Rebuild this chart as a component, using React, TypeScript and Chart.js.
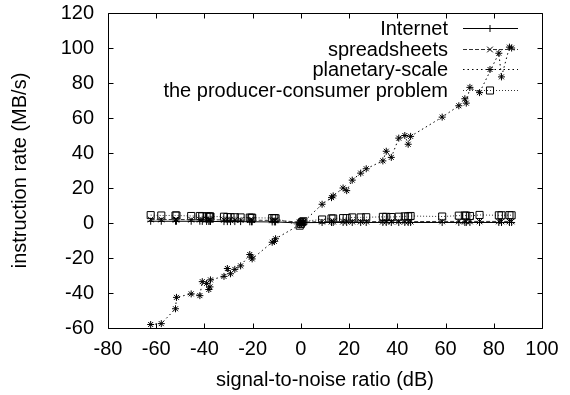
import React, { useEffect, useRef } from "react";
import { Chart, registerables } from "chart.js";
import { drawPoint } from "chart.js/helpers";

Chart.register(...registerables);

const FONT = "'Liberation Sans', Arial, Helvetica, sans-serif";

const seriesNames = ["Internet", "spreadsheets", "planetary-scale", "the producer-consumer problem"];

const snrValues = [
  -62.3, -57.9, -52, -51.6, -45.5, -41.9, -40.9, -39.1, -38.2, -37.7, -37.5, -31.9, -30.5, -29.2, -27.4, -25,
  -21.2, -20.5, -20.2, -11.9, -11, -10.5, -0.5, 0, 0.5, 1, 8.8, 12.7, 13.4, 17.5, 19, 21.3, 24.8, 27.1, 34,
  35.4, 37.5, 40.6, 43.1, 44.5, 45.5, 58.6, 65.5, 68, 68.6, 70.1, 74.1, 82.1, 83.2, 86.5, 87.4,
];

const internetRate = [
  1, 1, 1, 1, 1, 1, 0.9, 0.9, 0.9, 0.9, 0.9, 0.8, 0.8, 0.8, 0.8, 0.8, 0.7, 0.7, 0.7, 0.6, 0.6, 0.6, 0, 0, 0.2,
  0.2, 0.3, 0.3, 0.3, 0.3, 0.3, 0.3, 0.3, 0.3, 0.3, 0.3, 0.3, 0.3, 0.3, 0.3, 0.3, 0.3, 0.3, 0.3, 0.3, 0.3, 0.3,
  0.3, 0.3, 0.3, 0.3,
];

const spreadsheetsRate = [
  2, 2, 2, 2, 1.9, 1.9, 1.9, 1.9, 1.8, 1.8, 1.8, 1.8, 1.7, 1.7, 1.7, 1.7, 1.6, 1.6, 1.6, 1.5, 1.5, 1.5, 0.5, 0,
  0.3, 0.5, 0.8, 0.8, 0.8, 0.8, 0.8, 0.8, 0.8, 0.8, 0.8, 0.8, 0.8, 0.8, 0.8, 0.8, 0.8, 0.9, 0.9, 0.9, 0.9, 0.9,
  0.9, 0.9, 0.9, 0.9, 0.9,
];

const planetaryRate = [
  -58, -57.5, -49, -42.5, -40.5, -41.5, -33.5, -34.5, -38, -36.5, -32.5, -30.5, -26, -29, -26.5, -24.5, -18,
  -19.5, -20.5, -11, -10.5, -9, -1, 0, 1, 0.5, 10.7, 14.5, 15.5, 20, 18.5, 24.5, 28.5, 31, 35.5, 41, 37.5, 48.5,
  50, 45, 49.5, 60.5, 67, 71, 68.5, 77.5, 74.5, 97, 83.5, 100.5, 100,
];

const producerRate = [
  4.5, 4.3, 4.3, 4.3, 4, 4, 3.8, 3.8, 3.8, 3.7, 3.7, 3.6, 3.4, 3.3, 3.3, 3.2, 3.1, 3, 3, 2.8, 2.8, 2.7, -1.5,
  -0.5, 0.5, 1, 2, 2.6, 2.6, 2.8, 2.8, 3.2, 3.2, 3.3, 3.5, 3.5, 3.4, 3.6, 3.8, 3.8, 4, 3.7, 4.2, 4.3, 4.2, 4,
  4.6, 4.4, 4.4, 4.5, 4.4,
];

const xMin = -80;
const xMax = 100;
const yMin = -60;
const yMax = 120;
const tickStep = 20;

const xTitle = "signal-to-noise ratio (dB)";
const yTitle = "instruction rate (MB/s)";

const toPoints = (ys: number[]) => snrValues.map((x, i) => ({ x, y: ys[i] }));

const framePlugin = {
  id: "gnuplotFrame",
  afterDatasetsDraw(chart: any) {
    const { ctx, chartArea: a, scales } = chart;
    ctx.save();
    ctx.strokeStyle = "#000";
    ctx.lineWidth = 1;
    ctx.setLineDash([]);
    const l = Math.round(a.left) + 0.5;
    const r = Math.round(a.right) + 0.5;
    const t = Math.round(a.top) + 0.5;
    const b = Math.round(a.bottom) + 0.5;
    ctx.beginPath();
    ctx.rect(l, t, r - l, b - t);
    const L = 5;
    scales.x.ticks.forEach((tk: any) => {
      const px = Math.round(scales.x.getPixelForValue(tk.value)) + 0.5;
      ctx.moveTo(px, b);
      ctx.lineTo(px, b - L);
      ctx.moveTo(px, t);
      ctx.lineTo(px, t + L);
    });
    scales.y.ticks.forEach((tk: any) => {
      const py = Math.round(scales.y.getPixelForValue(tk.value)) + 0.5;
      ctx.moveTo(l, py);
      ctx.lineTo(l + L, py);
      ctx.moveTo(r, py);
      ctx.lineTo(r - L, py);
    });
    ctx.stroke();

    // legend (gnuplot style: right-aligned text, sample on the right)
    const rowGap = 20.7;
    chart.data.datasets.forEach((ds: any, i: number) => {
      const y = Math.round(a.top + 15 + i * rowGap) + 0.5;
      ctx.font = `20px ${FONT}`;
      ctx.fillStyle = "#000";
      ctx.textAlign = "right";
      ctx.textBaseline = "middle";
      ctx.fillText(ds.label, a.right - 94, y + 1);
      ctx.strokeStyle = ds.borderColor;
      ctx.lineWidth = ds.borderWidth;
      ctx.setLineDash(ds.borderDash || []);
      ctx.beginPath();
      ctx.moveTo(a.right - 79, y);
      ctx.lineTo(a.right - 24, y);
      ctx.stroke();
      ctx.setLineDash([]);
      ctx.strokeStyle = "#000";
      ctx.fillStyle = "rgba(0,0,0,0)";
      ctx.lineWidth = 1;
      drawPoint(ctx, { pointStyle: ds.pointStyle, radius: ds.pointRadius, rotation: 0, borderWidth: 1 } as any, a.right - 52, y);
    });
    ctx.restore();
  },
};

export default function App() {
  const ref = useRef<HTMLCanvasElement>(null);

  useEffect(() => {
    if (!ref.current) return;
    const common = {
      showLine: true,
      fill: false,
      tension: 0,
      borderWidth: 1,
      pointBorderWidth: 1,
      pointBackgroundColor: "rgba(0,0,0,0)",
      pointBorderColor: "#000",
    };
    const chart = new Chart(ref.current, {
      type: "scatter",
      data: {
        datasets: [
          {
            ...common,
            label: seriesNames[0],
            data: toPoints(internetRate),
            borderColor: "#000",
            borderDash: [],
            pointStyle: "cross",
            pointRadius: 3.5,
          },
          {
            ...common,
            label: seriesNames[1],
            data: toPoints(spreadsheetsRate),
            borderColor: "#333",
            borderDash: [4, 2],
            pointStyle: "crossRot",
            pointRadius: 4,
          },
          {
            ...common,
            label: seriesNames[2],
            data: toPoints(planetaryRate),
            borderColor: "#000",
            borderDash: [1.5, 3],
            pointStyle: "star",
            pointRadius: 3.5,
          },
          {
            ...common,
            label: seriesNames[3],
            data: toPoints(producerRate),
            borderColor: "#333",
            borderDash: [1, 2],
            pointStyle: "rect",
            pointRadius: 5,
          },
        ] as any,
      },
      options: {
        animation: false,
        responsive: false,
        maintainAspectRatio: false,
        layout: { padding: { top: 13, right: 28, left: 0, bottom: 0 } },
        plugins: {
          legend: { display: false },
          tooltip: { enabled: false },
        },
        scales: {
          x: {
            type: "linear",
            min: xMin,
            max: xMax,
            border: { display: false },
            grid: { display: false, drawTicks: false },
            ticks: {
              stepSize: tickStep,
              padding: 9,
              color: "#000",
              font: { family: FONT, size: 20 },
              maxRotation: 0,
              autoSkip: false,
            },
            title: {
              display: true,
              text: xTitle,
              color: "#000",
              font: { family: FONT, size: 20 },
              padding: { top: 0, bottom: 3 },
            },
            afterFit: (s: any) => {
              s.height = 67;
              s.paddingLeft = 0;
              s.paddingRight = 0;
            },
          },
          y: {
            type: "linear",
            min: yMin,
            max: yMax,
            border: { display: false },
            grid: { display: false, drawTicks: false },
            ticks: {
              stepSize: tickStep,
              padding: 14,
              color: "#000",
              font: { family: FONT, size: 20 },
              autoSkip: false,
            },
            title: {
              display: true,
              text: yTitle,
              color: "#000",
              font: { family: FONT, size: 20 },
              padding: { top: 8, bottom: 0 },
            },
            afterFit: (s: any) => {
              s.width = 108;
              s.paddingTop = 0;
              s.paddingBottom = 0;
            },
          },
        },
      } as any,
      plugins: [framePlugin],
    });
    return () => chart.destroy();
  }, []);

  return (
    <div style={{ position: "fixed", left: 0, top: 0, width: 570, height: 395, background: "#fff" }}>
      <canvas ref={ref} width={570} height={395} style={{ display: "block" }} />
    </div>
  );
}
